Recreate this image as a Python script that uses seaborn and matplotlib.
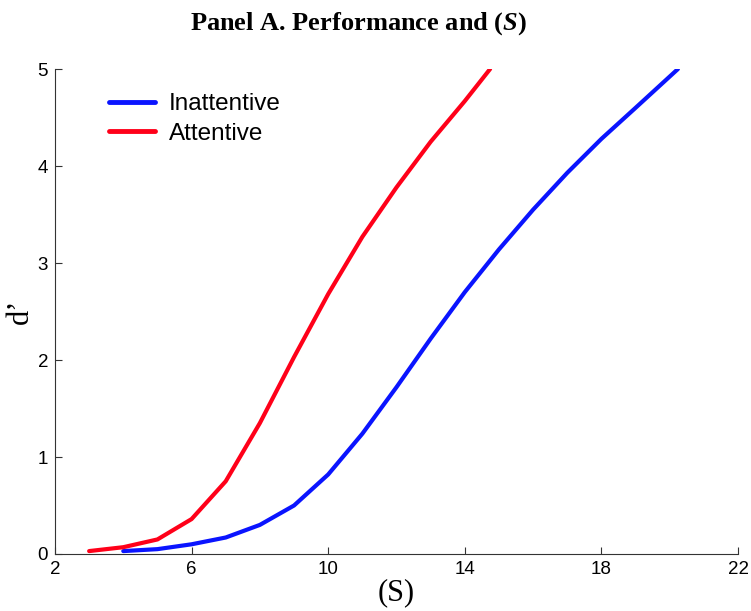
import matplotlib
matplotlib.use("Agg")
import matplotlib.pyplot as plt
import seaborn as sns
import pandas as pd

# Sensitivity (d') as a function of set size (S)
inattentive_s = [4, 5, 6, 7, 8, 9, 10, 11, 12, 13, 14, 15, 16, 17, 18, 19, 20.24]
inattentive_d = [0.03, 0.05, 0.10, 0.17, 0.30, 0.50, 0.82, 1.24, 1.72, 2.22, 2.70, 3.14, 3.55, 3.93, 4.28, 4.60, 5.00]

attentive_s = [3, 4, 5, 6, 7, 8, 9, 10, 11, 12, 13, 14, 14.74]
attentive_d = [0.03, 0.07, 0.15, 0.36, 0.75, 1.35, 2.03, 2.68, 3.27, 3.78, 4.25, 4.67, 5.00]

x_ticks = [2, 6, 10, 14, 18, 22]
y_ticks = [0, 1, 2, 3, 4, 5]

df = pd.concat([
    pd.DataFrame({"S": inattentive_s, "d": inattentive_d, "group": "Inattentive"}),
    pd.DataFrame({"S": attentive_s, "d": attentive_d, "group": "Attentive"}),
], ignore_index=True)

sns.set_style("ticks")
plt.rcParams["font.family"] = ["Liberation Sans", "DejaVu Sans"]
plt.rcParams["text.color"] = "black"
plt.rcParams["axes.labelcolor"] = "black"
plt.rcParams["mathtext.fontset"] = "custom"
plt.rcParams["mathtext.it"] = "Liberation Serif:italic:bold"
plt.rcParams["mathtext.rm"] = "Liberation Serif:bold"

fig = plt.figure(figsize=(7.51, 6.11), dpi=100)
ax = fig.add_axes([0.0732, 0.0933, 0.9095, 0.7937])

sns.lineplot(data=df, x="S", y="d", hue="group", sort=False,
             palette={"Inattentive": "#0a14ff", "Attentive": "#ff0019"},
             linewidth=3.0, ax=ax, estimator=None)

ax.set_xlim(2, 22)
ax.set_ylim(0, 5)
ax.set_xticks(x_ticks)
ax.set_yticks(y_ticks)
ax.tick_params(direction="in", length=5, width=0.8, labelsize=13.5,
               colors="#333333", labelcolor="black", pad=5)
for side in ("top", "right"):
    ax.spines[side].set_visible(False)
for side in ("left", "bottom"):
    ax.spines[side].set_linewidth(0.8)
    ax.spines[side].set_color("#333333")

ax.set_xlabel("(S)", family="Liberation Serif", fontsize=22, labelpad=0)
ax.set_ylabel("d\u2019", family="Liberation Serif", fontsize=22, labelpad=2)

leg = ax.legend(loc="upper left", frameon=False, fontsize=17.5, handlelength=1.9,
                handletextpad=0.55, labelspacing=0.3, bbox_to_anchor=(0.047, 0.995))
for line in leg.get_lines():
    line.set_linewidth(3.5)

fig.text(0.477, 0.962, r"Panel A. Performance and ($\mathit{S}$)",
         ha="center", va="center", fontsize=19, fontweight="bold",
         family="Liberation Serif", color="black")

fig.savefig("out.png", dpi=100)
